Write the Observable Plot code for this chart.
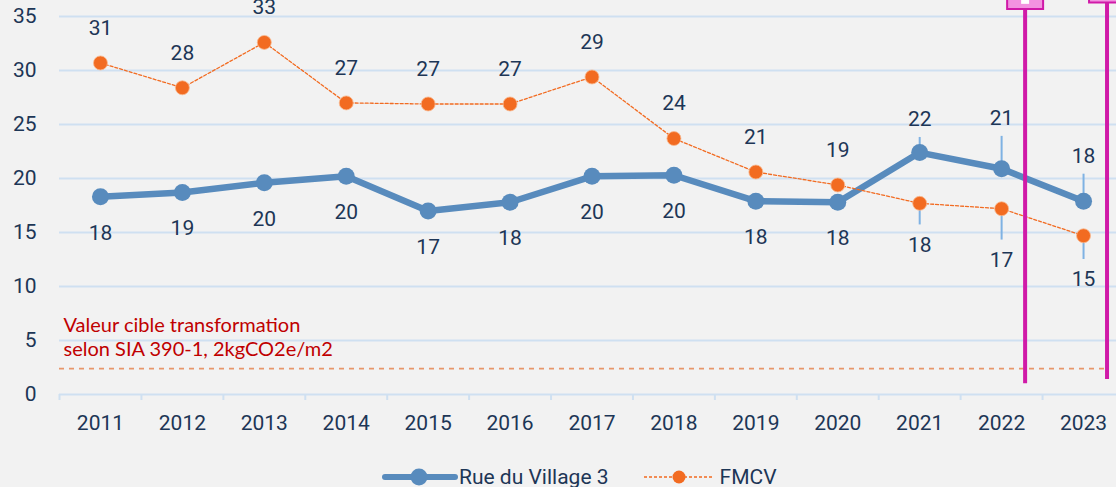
<!DOCTYPE html>
<html><head><meta charset="utf-8">
<script src="https://cdn.jsdelivr.net/npm/d3@7"></script>
<script src="https://cdn.jsdelivr.net/npm/@observablehq/plot@0.6"></script>
<style>
html,body{margin:0;padding:0;background:#f2f2f2;overflow:hidden;width:1116px;height:487px;}
#chart svg{display:block;}
.legend{display:flex;align-items:center;height:40px;margin-top:9px;padding-left:381px;font-family:Roboto,sans-serif;font-size:21px;color:#1d3656;white-space:nowrap;}
.legend .item{display:flex;align-items:center;}
.legend svg{display:block;}
</style></head>
<body><div id="chart"></div><div class="legend" id="legend"></div>
<script>
// ---- data ----
const years = ["2011","2012","2013","2014","2015","2016","2017","2018","2019","2020","2021","2022","2023"];
const village = [18.3, 18.7, 19.6, 20.2, 17.0, 17.8, 20.2, 20.3, 17.9, 17.8, 22.4, 20.9, 17.9];
const fmcv = [30.7, 28.4, 32.6, 27.0, 26.9, 26.9, 29.4, 23.7, 20.6, 19.4, 17.7, 17.2, 14.7];
const villageErrUp = [null, null, null, null, null, null, null, null, null, null, 1.4, 3.0, 2.5];
const fmcvErrDown = [null, null, null, null, null, null, null, null, null, null, 2.0, 2.9, 2.2];
const yTicks = [0, 5, 10, 15, 20, 25, 30, 35];
const target = 2.4;
const targetLabel = ["Valeur cible transformation", "selon SIA 390-1, 2kgCO2e/m2"];
const seriesNames = ["Rue du Village 3", "FMCV"];
// overlay markers (magenta) seen in the picture
const markerYears = ["2022", "2023"];
const markerBottoms = [1.0, 1.4];

// ---- styles ----
const BLUE = "#588bbd", ORANGE = "#f26b21", ERR = "#7fb2e3", GRID = "#cfe0f1", TEXT = "#1d3656", MAGENTA = "#d01aa8";
const W = 1124, H = 448, ML = 59, MR = 0, MT = 16, MB = 54;
const bw = (W - ML - MR) / years.length;

const rows = years.map((year, i) => ({year, village: village[i], fmcv: fmcv[i], vErr: villageErrUp[i], fErr: fmcvErrDown[i]}));
const vErrRows = rows.filter(d => d.vErr != null);
const fErrRows = rows.filter(d => d.fErr != null);
const vNoErr = rows.filter(d => d.vErr == null);
const fNoErr = rows.filter(d => d.fErr == null);
const markers = markerYears.map((year, i) => ({year, bottom: markerBottoms[i]}));

const plot = Plot.plot({
  width: W, height: H, marginLeft: ML, marginRight: MR, marginTop: MT, marginBottom: MB,
  style: {background: "#f2f2f2", fontFamily: "Roboto, sans-serif", maxWidth: "none", color: TEXT, overflow: "visible"},
  x: {type: "band", domain: years, padding: 0, round: false},
  y: {domain: [0, 35]},
  marks: [
    Plot.ruleY(yTicks, {stroke: GRID, strokeWidth: 2}),
    Plot.axisY({ticks: yTicks, tickSize: 0, tickPadding: 23, fontSize: 21, label: null}),
    Plot.axisX({tickSize: 6, tickFormat: () => "", dx: -bw / 2, stroke: GRID, strokeWidth: 2, label: null}),
    Plot.axisX({tickSize: 0, tickPadding: 21, fontSize: 21, label: null}),
    // target line + label
    Plot.ruleY([target], {stroke: "#e8966a", strokeWidth: 1.8, strokeDasharray: "5,5", insetRight: 17}),
    Plot.text([targetLabel.join("\n")], {x: () => years[0], y: () => target, dx: -bw / 2 + 4, dy: -12.6, textAnchor: "start", lineAnchor: "bottom", lineHeight: 1.2, fontSize: 20, fontFamily: "Lato, sans-serif", fill: "#c00000"}),
    // Rue du Village 3
    Plot.line(rows, {x: "year", y: "village", stroke: BLUE, strokeWidth: 6.5}),
    Plot.ruleX(vErrRows, {x: "year", y1: "village", y2: d => d.village + d.vErr, stroke: ERR, strokeWidth: 2}),
    Plot.dot(rows, {x: "year", y: "village", r: 8.5, fill: BLUE}),
    // FMCV
    Plot.line(rows, {x: "year", y: "fmcv", stroke: ORANGE, strokeWidth: 1.3, strokeDasharray: "3,2"}),
    Plot.ruleX(fErrRows, {x: "year", y1: "fmcv", y2: d => d.fmcv - d.fErr, stroke: ERR, strokeWidth: 2}),
    Plot.dot(rows, {x: "year", y: "fmcv", r: 7, fill: ORANGE, stroke: "#f9b98f", strokeWidth: 0.8}),
    // data labels
    Plot.text(vNoErr, {x: "year", y: "village", text: d => Math.round(d.village), dy: 36, fontSize: 21, fill: TEXT}),
    Plot.text(vErrRows, {x: "year", y: d => d.village + d.vErr, text: d => Math.round(d.village), dy: -18, fontSize: 21, fill: TEXT}),
    Plot.text(fNoErr, {x: "year", y: "fmcv", text: d => Math.round(d.fmcv), dy: -35, fontSize: 21, fill: TEXT}),
    Plot.text(fErrRows, {x: "year", y: d => d.fmcv - d.fErr, text: d => Math.round(d.fmcv), dy: 20, fontSize: 21, fill: TEXT}),
    // magenta overlay markers
    Plot.ruleX(markers, {x: "year", y1: "bottom", y2: 37, dx: 23.5, stroke: MAGENTA, strokeWidth: 4}),
    Plot.dot(markers, {x: "year", y: (d, i) => i === 0 ? 37.37 : 37.97, dx: 23.5, symbol: "square", r: 20.3, fill: "#f392e0", stroke: MAGENTA, strokeWidth: 2}),
    Plot.dot(markers.slice(0, 1), {x: "year", y: 36.54, dx: 23.5, symbol: "square", r: 4.5, fill: "#ffffff"})
  ]
});
document.getElementById("chart").appendChild(plot);

// ---- legend ----
const legend = document.getElementById("legend");
function item(kind, name, mr) {
  const el = document.createElement("div");
  el.className = "item";
  el.style.marginRight = mr + "px";
  const sw = kind === "blue"
    ? `<svg width="78" height="20"><line x1="4" y1="10" x2="74" y2="10" stroke="${BLUE}" stroke-width="6" stroke-linecap="round"/><circle cx="38" cy="10" r="8.5" fill="${BLUE}"/></svg>`
    : `<svg width="76" height="20"><line x1="0" y1="10" x2="70" y2="10" stroke="${ORANGE}" stroke-width="1.3" stroke-dasharray="3,2"/><circle cx="35" cy="10" r="6.5" fill="${ORANGE}"/></svg>`;
  el.innerHTML = sw + `<span>${name}</span>`;
  return el;
}
legend.appendChild(item("blue", seriesNames[0], 35));
legend.appendChild(item("orange", seriesNames[1], 0));
</script>
</body></html>
